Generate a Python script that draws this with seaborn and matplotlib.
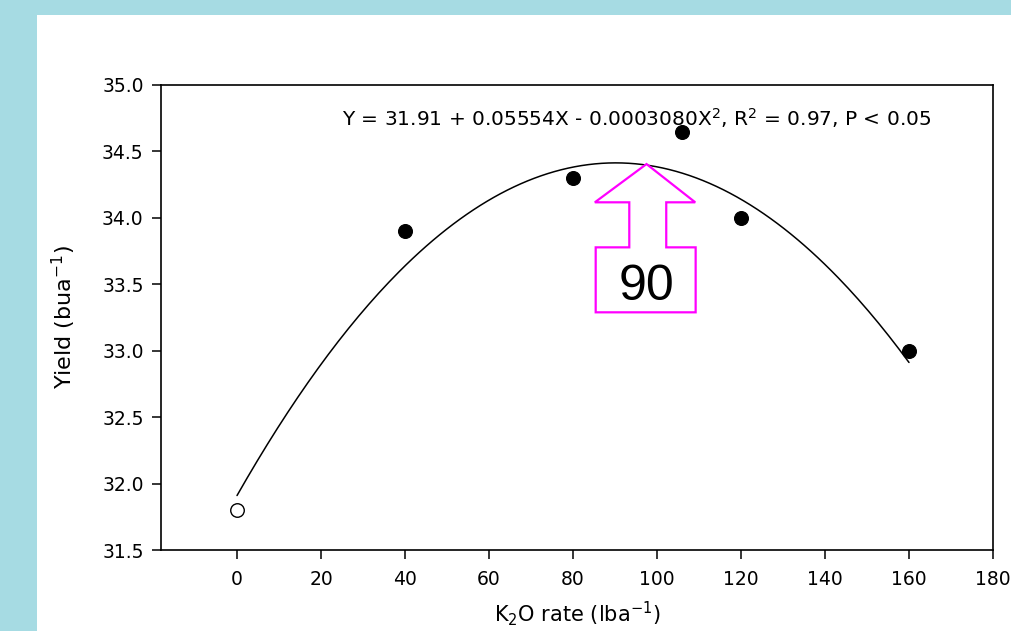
import numpy as np
import pandas as pd
import matplotlib
matplotlib.use("Agg")
import matplotlib.pyplot as plt
from matplotlib.patches import Polygon, Rectangle
import seaborn as sns

# ---- data ----
rate_filled = [40, 80, 106, 120, 160]
yield_filled = [33.9, 34.3, 34.65, 34.0, 33.0]
rate_open = [0]
yield_open = [31.8]

# fitted quadratic as printed on the chart
b0, b1, b2 = 31.91, 0.05554, -0.0003080
fit_x = np.linspace(0, 160, 200)

x_ticks = [0, 20, 40, 60, 80, 100, 120, 140, 160, 180]
y_ticks = [31.5, 32.0, 32.5, 33.0, 33.5, 34.0, 34.5, 35.0]
equation = "Y = 31.91 + 0.05554X - 0.0003080X$^2$, R$^2$ = 0.97, P < 0.05"
optimum_label = "90"

sns.set_theme(style="ticks")
plt.rcParams['font.family'] = ['DejaVu Sans']
plt.rcParams['mathtext.fontset'] = 'dejavusans'

fig = plt.figure(figsize=(10.11, 6.31), dpi=100)
fig.patch.set_facecolor("white")
# decorative background strips
fig.patches.append(Rectangle((0, 0), 37 / 1011, 1, transform=fig.transFigure,
                             facecolor="#a6dbe3", edgecolor="none", zorder=-1))
fig.patches.append(Rectangle((0, 1 - 15 / 631), 1, 15 / 631, transform=fig.transFigure,
                             facecolor="#a6dbe3", edgecolor="none", zorder=-1))

ax = fig.add_axes([161 / 1011, 1 - 550 / 631, (993 - 161) / 1011, (550 - 85) / 631])

fit_df = pd.DataFrame({"x": fit_x, "y": b0 + b1 * fit_x + b2 * fit_x ** 2})
sns.lineplot(data=fit_df, x="x", y="y", ax=ax, color="black", linewidth=1.1, zorder=2)

df_f = pd.DataFrame({"x": rate_filled, "y": yield_filled})
sns.scatterplot(data=df_f, x="x", y="y", ax=ax, color="black", s=100,
                edgecolor="black", linewidth=0.8, zorder=3)
df_o = pd.DataFrame({"x": rate_open, "y": yield_open})
sns.scatterplot(data=df_o, x="x", y="y", ax=ax, facecolor="white", s=95,
                edgecolor="black", linewidth=1.0, zorder=3)

ax.set_xlim(-18.1, 180)
ax.set_ylim(31.5, 35.0)
ax.set_xticks(x_ticks)
ax.set_yticks(y_ticks)
ax.set_yticklabels([f"{v:.1f}" for v in y_ticks])
ax.tick_params(axis="both", direction="out", length=6.5, width=1.1, labelsize=13.5,
               colors="black")
ax.tick_params(axis="x", pad=8)
ax.tick_params(axis="y", pad=6)
ax.tick_params(top=False, right=False)
for sp in ax.spines.values():
    sp.set_visible(True)
    sp.set_linewidth(1.2)
    sp.set_color("black")

ax.set_xlabel("K$_2$O rate (lba$^{-1}$)", fontsize=15, va="bottom", color="black")
ax.xaxis.set_label_coords(0.5, -0.168)
ax.set_ylabel("Yield (bua$^{-1}$)", fontsize=16, va="center", color="black")
ax.yaxis.set_label_coords(-0.1166, 0.5)

ax.text(0.572, 0.929, equation, transform=ax.transAxes, fontsize=14.5,
        ha="center", va="center", color="black")

# magenta block arrow pointing at optimum
arrow_pts = [(97.5, 34.405), (109.1, 34.117), (102.2, 34.117), (102.2, 33.778),
             (109.2, 33.778), (109.2, 33.289), (85.4, 33.289), (85.4, 33.778),
             (93.4, 33.778), (93.4, 34.117), (85.2, 34.117)]
ax.add_patch(Polygon(arrow_pts, closed=True, facecolor="white", edgecolor="#ff00ff",
                     linewidth=1.6, zorder=4))
ax.text(97.5, 33.382, optimum_label, fontsize=36, ha="center", va="baseline",
        color="black", family="Liberation Sans", zorder=5)

fig.savefig("out.png", dpi=100)
